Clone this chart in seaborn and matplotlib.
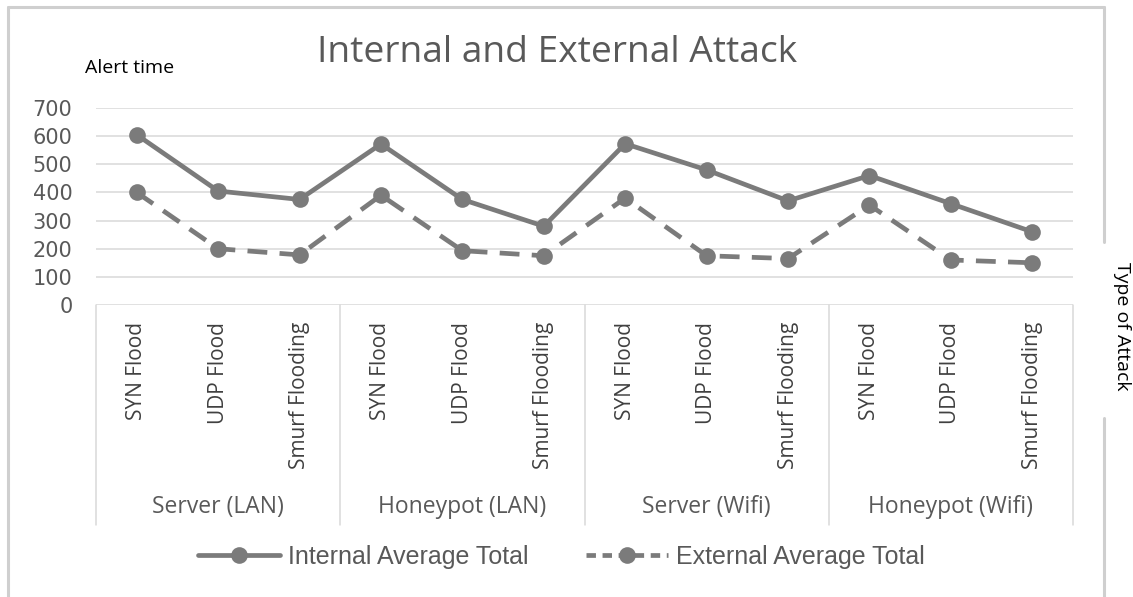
import numpy as np
import pandas as pd
import seaborn as sns
import matplotlib
matplotlib.use("Agg")
import matplotlib.pyplot as plt
from matplotlib.lines import Line2D

# ---- data -------------------------------------------------------------
groups = ["Server (LAN)", "Honeypot (LAN)", "Server (Wifi)", "Honeypot (Wifi)"]
attacks = ["SYN Flood", "UDP Flood", "Smurf Flooding"]
internal_avg = [605, 405, 375, 572, 375, 280, 573, 480, 370, 460, 360, 260]
external_avg = [400, 200, 178, 390, 193, 175, 380, 175, 165, 355, 160, 150]
series_names = ["Internal Average Total", "External Average Total"]
y_ticks = [0, 100, 200, 300, 400, 500, 600, 700]

# ---- styling ----------------------------------------------------------
sns.set_theme(style="white")
plt.rcParams["font.family"] = ["Open Sans", "DejaVu Sans"]

LINE = "#7b7b7b"
TEXT = "#595959"
GRID = "#d9d9d9"

fig = plt.figure(figsize=(11.33, 5.97), dpi=100)
W, H = 1133, 597
ax = fig.add_axes([96 / W, 1 - 305 / H, (1073 - 96) / W, (305 - 108) / H])

n = len(groups) * len(attacks)
x = np.arange(n)
df = pd.DataFrame({
    "pos": np.concatenate([x, x]),
    "value": internal_avg + external_avg,
    "series": [series_names[0]] * n + [series_names[1]] * n,
})

sns.lineplot(data=df[df.series == series_names[0]], x="pos", y="value", ax=ax,
             color=LINE, linewidth=3.4, marker="o", markersize=12,
             markeredgewidth=0, label=series_names[0], legend=False)
sns.lineplot(data=df[df.series == series_names[1]], x="pos", y="value", ax=ax,
             color=LINE, linewidth=3.4, linestyle=(0, (4.2, 2.6)), marker="o",
             markersize=12, markeredgewidth=0, label=series_names[1], legend=False)

ax.set_xlim(-0.5, n - 0.5)
ax.set_ylim(0, 700)
ax.set_yticks(y_ticks)
ax.set_yticklabels([str(v) for v in y_ticks], family="DejaVu Sans", fontsize=15, color=TEXT)
ax.tick_params(axis="y", length=0, pad=17)
ax.yaxis.grid(True, color=GRID, linewidth=1.1)
ax.set_axisbelow(True)
for s in ax.spines.values():
    s.set_visible(False)
ax.set_xlabel("")
ax.set_ylabel("")

# category axis: attack types rotated, groups underneath
ax.set_xticks(x)
ax.set_xticklabels(attacks * len(groups), rotation=90, fontsize=15, color="#404040")
ax.tick_params(axis="x", length=0, pad=12)

bottom_y = -(525 - 305) / (305 - 108)
trans = ax.get_xaxis_transform()
bounds = np.arange(len(groups) + 1) * len(attacks) - 0.5
for b in bounds:
    ax.plot([b, b], [0, bottom_y], transform=trans, color=GRID, lw=1.1, clip_on=False)
label_y = -(507 - 305) / (305 - 108)
for i, g in enumerate(groups):
    centre = i * len(attacks) + (len(attacks) - 1) / 2
    ax.text(centre, label_y, g, transform=trans, ha="center", va="center",
            fontsize=16.5, color=TEXT)

# titles
fig.text(557 / W, 1 - 53 / H, "Internal and External Attack", ha="center", va="center",
         fontsize=26.7, color=TEXT)
fig.text(85 / W, 1 - 68 / H, "Alert time", ha="left", va="center", fontsize=14, color="black")
fig.text(1122 / W, 1 - 326 / H, "Type of Attack", ha="center", va="center", rotation=-90,
         fontsize=14, color="black")

# legend
handles = [
    Line2D([], [], color=LINE, lw=3.4, marker="o", markersize=12, markeredgewidth=0),
    Line2D([], [], color=LINE, lw=3.4, linestyle=(0, (2.0, 1.4)), marker="o",
           markersize=12, markeredgewidth=0),
]
fig.legend(handles, series_names, loc="center", bbox_to_anchor=(561 / W, 1 - 557 / H),
           ncol=2, frameon=False, handlelength=3.3, handletextpad=0.3, columnspacing=2.3,
           prop={"family": "Liberation Sans", "size": 18}, labelcolor=TEXT)

# chart border
BORDER = "#cfcfcf"
def fig_line(xs, ys):
    fig.add_artist(Line2D([v / W for v in xs], [1 - v / H for v in ys], color=BORDER, lw=2.2))
fig_line([8, 1104], [7, 7])
fig_line([8, 8], [7, 597])
fig_line([1104, 1104], [7, 242])
fig_line([1104, 1104], [418, 597])

fig.savefig("out.png", dpi=100)
